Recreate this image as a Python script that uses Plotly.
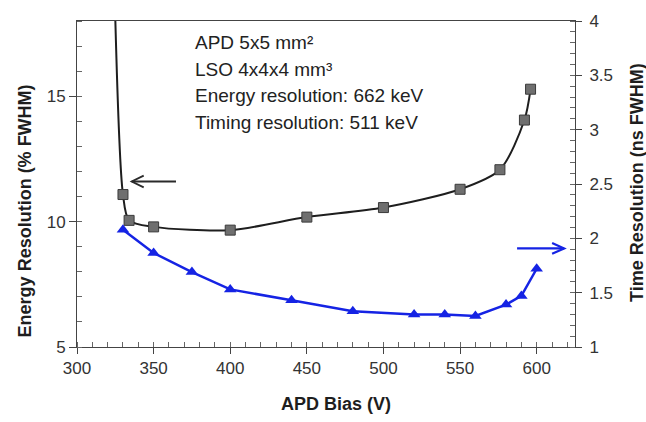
import plotly.graph_objects as go

# APD bias voltages (V) and measured energy resolution (% FWHM, 662 keV)
bias_energy = [330, 334, 350, 400, 450, 500, 550, 576, 592, 596]
energy_res = [11.08, 10.05, 9.79, 9.66, 10.18, 10.56, 11.29, 12.07, 14.05, 15.28]

# the fitted energy curve rises steeply below 330 V and leaves the axis
energy_lead_bias = [324.6]
energy_lead_res = [19.0]

# APD bias voltages (V) and measured timing resolution (ns FWHM, 511 keV)
bias_time = [330, 350, 375, 400, 440, 480, 520, 540, 560, 580, 590, 600]
time_res = [2.08, 1.865, 1.69, 1.53, 1.43, 1.33, 1.30, 1.30, 1.285, 1.39, 1.47, 1.72]

x_ticks = [300, 350, 400, 450, 500, 550, 600]
energy_ticks = [5, 10, 15]
time_ticks = [1, 1.5, 2, 2.5, 3, 3.5, 4]

info_lines = [
    "APD 5x5 mm²",
    "LSO 4x4x4 mm³",
    "Energy resolution: 662 keV",
    "Timing resolution: 511 keV",
]

FONT = "Liberation Sans, Arial, Helvetica, sans-serif"
BLACK = "#1e1e1e"
BLUE = "#1523e4"

X_RANGE = [300, 625]
Y1_RANGE = [5, 18]
Y2_RANGE = [1, 4]
W, H = 646, 422
M_L, M_R, M_T, M_B = 77, 71, 13, 75
PLOT_W = W - M_L - M_R
PLOT_H = H - M_T - M_B

fig = go.Figure()

# energy resolution: smooth black curve with grey square markers
curve_x = energy_lead_bias + bias_energy
curve_y = energy_lead_res + energy_res
fig.add_trace(go.Scatter(
    x=curve_x, y=curve_y, mode="lines",
    line=dict(color=BLACK, width=2, shape="spline", smoothing=0.8),
    yaxis="y", showlegend=False, hoverinfo="skip",
))
fig.add_trace(go.Scatter(
    x=bias_energy, y=energy_res, mode="markers",
    marker=dict(symbol="square", size=10, color="#6f6f6f",
                line=dict(color="#3a3a3a", width=1)),
    yaxis="y", showlegend=False,
))

# timing resolution: blue line with blue triangles, on the right axis
fig.add_trace(go.Scatter(
    x=bias_time, y=time_res, mode="lines+markers",
    line=dict(color=BLUE, width=2.5),
    marker=dict(symbol="triangle-up", size=11, color=BLUE),
    yaxis="y2", showlegend=False,
))

tickfont = dict(family=FONT, size=17, color="#333333")

fig.update_layout(
    width=W, height=H,
    margin=dict(l=M_L, r=M_R, t=M_T, b=M_B, pad=0),
    paper_bgcolor="white", plot_bgcolor="white",
    font=dict(family=FONT, color=BLACK),
    xaxis=dict(
        range=X_RANGE, tickvals=x_ticks, showgrid=False, zeroline=False,
        showline=True, linecolor="#444444", linewidth=1, mirror=True,
        ticks="outside", ticklen=6, tickcolor="#444444", tickfont=tickfont,
        minor=dict(dtick=10, ticks="inside", ticklen=5, tickcolor="#666666"),
    ),
    yaxis=dict(
        range=Y1_RANGE, tickvals=energy_ticks, showgrid=False, zeroline=False,
        showline=True, linecolor="#444444", linewidth=1,
        ticks="outside", ticklen=7, tickcolor="#444444", tickfont=tickfont,
        minor=dict(dtick=1, ticks="inside", ticklen=5, tickcolor="#666666"),
    ),
    yaxis2=dict(
        range=Y2_RANGE, tickvals=time_ticks, overlaying="y", side="right",
        showgrid=False, zeroline=False,
        showline=True, linecolor="#444444", linewidth=1,
        ticks="outside", ticklen=6, tickcolor="#444444", tickfont=tickfont,
        ticklabelstandoff=4,
        minor=dict(dtick=0.1, ticks="inside", ticklen=5, tickcolor="#666666"),
    ),
)

annotations = []

# measurement conditions, one line per annotation
line_y = [0.934, 0.850, 0.772, 0.689]
for text, yp in zip(info_lines, line_y):
    annotations.append(dict(
        x=0.233, y=yp, xref="paper", yref="paper", text=text,
        showarrow=False, xanchor="left", yanchor="middle",
        font=dict(family=FONT, size=19, color="#222222"),
    ))

# axis titles
annotations.append(dict(
    x=0.520, y=-0.1737, xref="paper", yref="paper", text="<b>APD Bias (V)</b>",
    showarrow=False, xanchor="center", yanchor="middle",
    font=dict(family=FONT, size=18, color=BLACK),
))
annotations.append(dict(
    x=-0.1044, y=0.416, xref="paper", yref="paper",
    text="<b>Energy Resolution (% FWHM)</b>", textangle=-90,
    showarrow=False, xanchor="center", yanchor="middle",
    font=dict(family=FONT, size=18, color=BLACK),
))
annotations.append(dict(
    x=1.1245, y=0.503, xref="paper", yref="paper",
    text="<b>Time Resolution (ns FWHM)</b>", textangle=-90,
    showarrow=False, xanchor="center", yanchor="middle",
    font=dict(family=FONT, size=18, color=BLACK),
))
fig.update_layout(annotations=annotations)


def open_arrow(tip_x, tail_x, y, yref, y_range, head_len_px, head_half_px, color, width):
    """Horizontal arrow with an open chevron head, drawn as shapes."""
    x_per_px = (X_RANGE[1] - X_RANGE[0]) / PLOT_W
    y_per_px = (y_range[1] - y_range[0]) / PLOT_H
    direction = 1 if tail_x > tip_x else -1
    back_x = tip_x + direction * head_len_px * x_per_px
    dy = head_half_px * y_per_px
    line = dict(color=color, width=width)
    fig.add_shape(type="line", xref="x", yref=yref,
                  x0=tail_x, x1=tip_x, y0=y, y1=y, line=line)
    fig.add_shape(type="path", xref="x", yref=yref,
                  path=f"M {back_x},{y + dy} L {tip_x},{y} L {back_x},{y - dy}",
                  line=line)


# arrows pointing each curve to its own axis
open_arrow(335.7, 364.6, 11.6, "y", Y1_RANGE, 12, 6, "#2a2a2a", 1.8)
open_arrow(617.9, 587.2, 1.907, "y2", Y2_RANGE, 12, 5.5, BLUE, 2.2)

fig.write_html("out.html")
